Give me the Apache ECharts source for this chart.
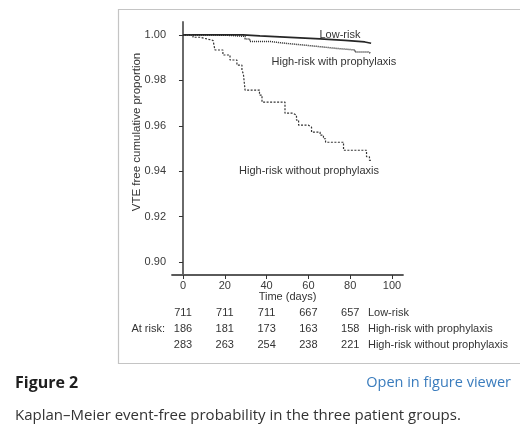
<!DOCTYPE html>
<html>
<head>
<meta charset="utf-8">
<script src="https://cdn.jsdelivr.net/npm/echarts@6/dist/echarts.min.js"></script>
<style>
  html, body { margin: 0; padding: 0; background: #fff; }
  #chart { width: 520px; height: 434px; }
</style>
</head>
<body>
<div id="chart"></div>
<script>
// Kaplan-Meier steps: [day, proportion]
const lowRisk = [
  [0, 1.0], [28.7, 0.99956], [36.8, 0.9989], [51.2, 0.99823],
  [65.6, 0.99757], [77.5, 0.99691], [87, 0.99634], [90, 0.99634]
];
const highWith = [
  [0, 1.0], [13, 0.9998], [22.5, 0.99934], [29.7, 0.99823], [32, 0.99713],
  [41.6, 0.99634], [48.8, 0.99558], [57.4, 0.99483], [65.6, 0.99404],
  [73.7, 0.99338], [82.3, 0.99249], [88.5, 0.99192], [90, 0.99192]
];
const highWithout = [
  [0, 1.0], [4.8, 0.99898], [8.1, 0.99823], [11.5, 0.99757], [14.4, 0.99704],
  [15.3, 0.99338], [19.1, 0.99117], [22.5, 0.98896], [25.8, 0.98675],
  [28.2, 0.98455], [28.9, 0.98278], [29.7, 0.97572], [36.6, 0.97351],
  [37.8, 0.97042], [48.8, 0.96556], [52.6, 0.96468], [54.3, 0.96247],
  [55.3, 0.96026], [60.0, 0.95938], [61.5, 0.95717], [65.6, 0.95585],
  [67.2, 0.9543], [68.2, 0.95276], [76.8, 0.94923], [87.8, 0.94636],
  [89.2, 0.94481], [90, 0.94481]
];

const xTicks = [0, 20, 40, 60, 80, 100];
const yTicks = [0.90, 0.92, 0.94, 0.96, 0.98, 1.00];

// numbers at risk
const riskDays = [0, 20, 40, 60, 80];
const riskGroups = ['Low-risk', 'High-risk with prophylaxis', 'High-risk without prophylaxis'];
const riskLow = [711, 711, 711, 667, 657];
const riskWith = [186, 181, 173, 163, 158];
const riskWithout = [283, 263, 254, 238, 221];

// curve labels: [day, proportion]
const curveLabels = [
  { text: 'Low-risk', at: [75.1, 1.0] },
  { text: 'High-risk with prophylaxis', at: [72.2, 0.98808] },
  { text: 'High-risk without prophylaxis', at: [60.3, 0.94] }
];

const font = '"Liberation Sans", Arial, sans-serif';
const axisGrey = '#5a5a5a';

const chart = echarts.init(document.getElementById('chart'));

chart.setOption({
  animation: false,
  backgroundColor: '#fff',
  grid: { left: 172, right: 117, top: 22, bottom: 159 },
  xAxis: {
    type: 'value',
    min: -5.25,
    max: 105.25,
    axisLine: { show: true, lineStyle: { color: axisGrey, width: 1.8 } },
    axisTick: { show: true, length: 4, lineStyle: { color: '#333' }, customValues: xTicks },
    axisLabel: {
      fontFamily: font, fontSize: 11, color: '#3a3a3a', margin: 5,
      customValues: xTicks
    },
    splitLine: { show: false }
  },
  yAxis: {
    type: 'value',
    min: 0.8943,
    max: 1.0057,
    axisLine: { show: true, lineStyle: { color: axisGrey, width: 1.8 } },
    axisTick: { show: true, length: 4, lineStyle: { color: '#333' }, customValues: yTicks },
    axisLabel: {
      fontFamily: font, fontSize: 11, color: '#3a3a3a', margin: 6,
      customValues: yTicks,
      formatter: v => v.toFixed(2)
    },
    splitLine: { show: false }
  },
  series: [
    {
      name: 'Low-risk', type: 'line', step: 'end', showSymbol: false,
      data: lowRisk,
      lineStyle: { color: '#262626', width: 1.7, type: 'solid' }
    },
    {
      name: 'High-risk with prophylaxis', type: 'line', step: 'end', showSymbol: false,
      data: highWith,
      lineStyle: { color: '#222', width: 1.5, type: [1, 1] }
    },
    {
      name: 'High-risk without prophylaxis', type: 'line', step: 'end', showSymbol: false,
      data: highWithout,
      lineStyle: { color: '#333', width: 1.2, type: [2, 1.5] }
    }
  ]
});

// texts placed through the chart's own coordinate system
const toPx = p => chart.convertToPixel({ gridIndex: 0 }, p);
const txt = (x, y, text, extra) => ({
  type: 'text', x: x, y: y, silent: true,
  style: Object.assign({
    text: text, font: '11px ' + font, fill: '#333',
    textAlign: 'center', textVerticalAlign: 'middle'
  }, extra || {})
});

const graphics = [];

// figure frame
graphics.push({
  type: 'polyline', silent: true, z: -1,
  shape: { points: [[530, 9.5], [118.5, 9.5], [118.5, 363.5], [530, 363.5]] },
  style: { stroke: '#c4c4c4', lineWidth: 1.2, fill: null }
});

// axis titles
graphics.push({
  type: 'text', x: 136.5, y: 132, rotation: Math.PI / 2, silent: true,
  style: {
    text: 'VTE free cumulative proportion', font: '11.5px ' + font, fill: '#333',
    textAlign: 'center', textVerticalAlign: 'middle'
  }
});
graphics.push(txt(toPx([50, 1])[0], 297, 'Time (days)'));

curveLabels.forEach(c => {
  const p = toPx(c.at);
  graphics.push(txt(p[0], p[1], c.text));
});

const rowY = [313, 329, 345];
const rows = [riskLow, riskWith, riskWithout];
const labelX = toPx([88, 1])[0] + 1;
rows.forEach((vals, r) => {
  vals.forEach((v, i) => {
    const px = toPx([riskDays[i], 1])[0];
    graphics.push(txt(px, rowY[r], String(v)));
  });
  graphics.push(txt(labelX, rowY[r], riskGroups[r], { textAlign: 'left' }));
});
graphics.push(txt(165, rowY[1], 'At risk:', { textAlign: 'right' }));

// page caption
graphics.push(txt(15, 383, 'Figure 2', {
  textAlign: 'left', font: 'bold 16px "Open Sans", sans-serif', fill: '#1e1e1e'
}));
graphics.push(txt(511, 383, 'Open in figure viewer', {
  textAlign: 'right', font: '14.5px "Open Sans", sans-serif', fill: '#3a7cbd'
}));
graphics.push(txt(15, 416, 'Kaplan\u2013Meier event-free probability in the three patient groups.', {
  textAlign: 'left', font: '15px "Open Sans", sans-serif', fill: '#333'
}));

chart.setOption({ graphic: graphics });
</script>
</body>
</html>
